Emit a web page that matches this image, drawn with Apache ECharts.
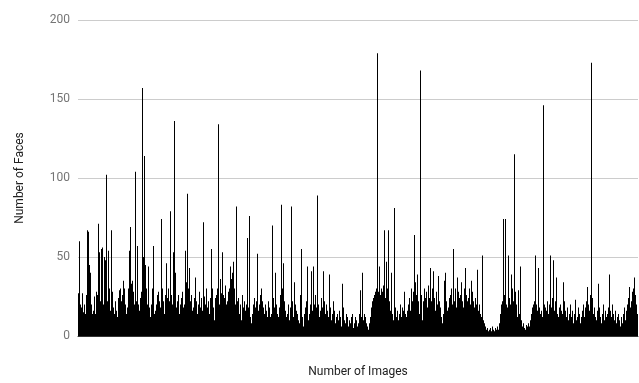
<!DOCTYPE html>
<html>
<head>
<meta charset="utf-8">
<script src="https://cdn.jsdelivr.net/npm/echarts@6/dist/echarts.min.js"></script>
<style>
  html, body { margin: 0; padding: 0; background: #fff; }
  #chart { width: 639px; height: 383px; }
</style>
</head>
<body>
<div id="chart"></div>
<script>
// faces per image (one value per pixel column)
var faceCounts = [
  27, 60, 20, 18, 27, 15, 20, 14, 26, 67,
  66, 45, 40, 20, 14, 16, 25, 14, 28, 26,
  71, 53, 22, 55, 56, 20, 50, 48, 102, 22,
  54, 30, 16, 67, 28, 18, 14, 22, 16, 12,
  24, 29, 30, 22, 26, 35, 30, 20, 14, 18,
  30, 54, 69, 33, 35, 28, 20, 104, 22, 57,
  20, 16, 24, 28, 157, 50, 114, 45, 30, 20,
  44, 18, 12, 20, 30, 57, 14, 16, 20, 26,
  28, 22, 18, 74, 30, 22, 14, 26, 46, 24,
  30, 22, 79, 26, 20, 53, 136, 40, 18, 22,
  26, 14, 20, 24, 28, 18, 20, 54, 34, 90,
  30, 43, 22, 26, 16, 18, 24, 37, 22, 14,
  20, 28, 18, 24, 16, 72, 25, 20, 30, 18,
  22, 14, 24, 55, 30, 18, 10, 24, 26, 30,
  134, 20, 36, 27, 53, 26, 24, 32, 20, 22,
  28, 30, 44, 36, 40, 47, 30, 20, 82, 22,
  24, 14, 20, 10, 26, 18, 22, 16, 20, 62,
  18, 76, 12, 8, 14, 20, 24, 18, 22, 52,
  16, 20, 26, 30, 22, 18, 14, 20, 16, 12,
  22, 18, 12, 14, 70, 24, 18, 40, 20, 14,
  12, 18, 26, 83, 30, 46, 22, 16, 12, 14,
  20, 10, 18, 82, 22, 12, 34, 20, 16, 14,
  10, 8, 26, 55, 12, 6, 14, 18, 22, 44,
  10, 14, 20, 41, 16, 44, 20, 26, 18, 89,
  20, 12, 16, 24, 18, 41, 22, 14, 20, 16,
  12, 39, 18, 10, 14, 22, 16, 8, 12, 14,
  10, 16, 12, 6, 33, 18, 10, 8, 14, 12,
  6, 10, 8, 12, 14, 5, 8, 12, 10, 6,
  8, 14, 29, 12, 40, 10, 14, 12, 8, 6,
  4, 8, 12, 18, 22, 24, 26, 28, 30, 179,
  28, 44, 26, 30, 28, 32, 67, 24, 47, 30,
  67, 22, 16, 40, 14, 10, 81, 18, 12, 16,
  10, 14, 20, 12, 18, 16, 28, 14, 12, 16,
  20, 24, 16, 30, 22, 28, 64, 34, 26, 39,
  22, 14, 168, 26, 10, 22, 30, 24, 28, 18,
  32, 24, 43, 22, 30, 41, 24, 16, 28, 20,
  38, 22, 18, 12, 8, 14, 35, 40, 22, 16,
  18, 24, 26, 30, 20, 55, 22, 30, 18, 37,
  28, 24, 26, 34, 22, 18, 30, 43, 26, 22,
  24, 30, 20, 35, 28, 22, 18, 24, 20, 42,
  16, 20, 14, 12, 51, 10, 8, 6, 4, 5,
  3, 4, 5, 3, 6, 4, 3, 5, 4, 6,
  4, 8, 14, 20, 22, 74, 26, 74, 20, 18,
  51, 24, 20, 39, 30, 22, 115, 28, 20, 12,
  29, 14, 44, 10, 6, 8, 5, 4, 7, 6,
  8, 6, 10, 14, 18, 20, 22, 51, 20, 16,
  43, 18, 14, 16, 12, 146, 20, 18, 16, 22,
  14, 20, 51, 18, 24, 48, 16, 22, 37, 14,
  12, 18, 20, 16, 14, 34, 22, 16, 12, 18,
  10, 14, 20, 12, 16, 8, 14, 23, 10, 12,
  18, 14, 8, 12, 16, 20, 12, 18, 22, 31,
  20, 16, 26, 173, 24, 14, 18, 12, 10, 16,
  33, 18, 12, 8, 14, 20, 10, 16, 12, 14,
  18, 39, 16, 12, 20, 14, 10, 16, 8, 12,
  14, 10, 6, 12, 8, 14, 18, 10, 16, 20,
  24, 31, 18, 22, 28, 30, 37, 26, 20, 14
];
var imageIndex = faceCounts.map(function (v, i) { return i + 1; });
var yTicks = [0, 50, 100, 150, 200];

var chart = echarts.init(document.getElementById('chart'));
chart.setOption({
  animation: false,
  textStyle: { fontFamily: 'Roboto' },
  grid: { left: 78, right: 1, top: 20, bottom: 43, containLabel: false },
  xAxis: {
    type: 'category',
    data: imageIndex,
    name: 'Number of Images',
    nameLocation: 'middle',
    nameGap: 30,
    nameTextStyle: { color: '#222', fontSize: 12 },
    axisLine: { show: true, lineStyle: { color: '#333', width: 1 } },
    axisTick: { show: false },
    axisLabel: { show: false }
  },
  yAxis: {
    type: 'value',
    min: yTicks[0],
    max: yTicks[yTicks.length - 1],
    interval: 50,
    name: 'Number of Faces',
    nameLocation: 'middle',
    nameGap: 52,
    nameTextStyle: { color: '#222', fontSize: 12 },
    axisLine: { show: false },
    axisTick: { show: false },
    axisLabel: { color: '#757575', fontSize: 12, margin: 8 },
    splitLine: { lineStyle: { color: '#cccccc', width: 1 } }
  },
  series: [{
    type: 'bar',
    data: faceCounts,
    barCategoryGap: 0,
    itemStyle: { color: '#000' }
  }]
});
</script>
</body>
</html>
